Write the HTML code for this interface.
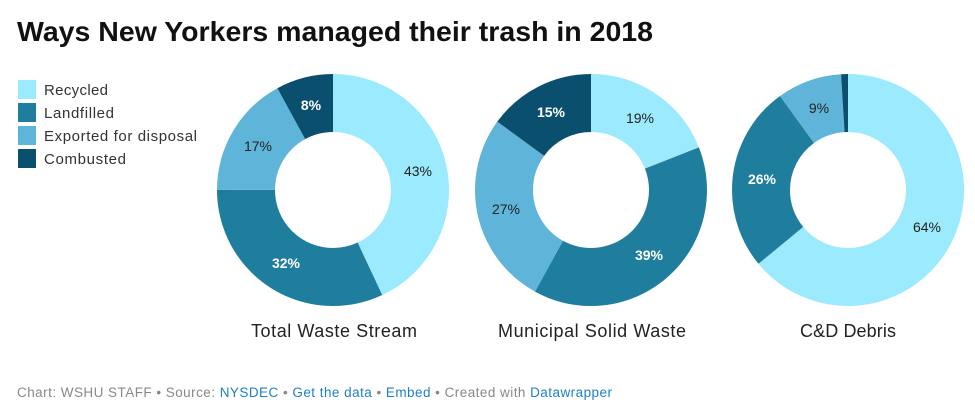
<!DOCTYPE html>
<html><head><meta charset="utf-8"><style>
body{margin:0;background:#fff;font-family:"Liberation Sans",sans-serif;}
</style></head><body>
<svg width="975" height="412" xmlns="http://www.w3.org/2000/svg" style="display:block">
<text x="17" y="41" font-size="28" font-weight="bold" fill="#111" textLength="636" lengthAdjust="spacingAndGlyphs" font-family="Liberation Sans, sans-serif">Ways New Yorkers managed their trash in 2018</text>
<g font-size="15" fill="#333" font-family="Liberation Sans, sans-serif">
<rect x="18" y="80" width="18" height="19" fill="#9beafd"/><text x="44" y="95" textLength="64">Recycled</text>
<rect x="18" y="103" width="18" height="19" fill="#1f7e9e"/><text x="44" y="118" textLength="70">Landfilled</text>
<rect x="18" y="126" width="18" height="19" fill="#5fb5d9"/><text x="44" y="141" textLength="153">Exported for disposal</text>
<rect x="18" y="149" width="18" height="19" fill="#0b4f6e"/><text x="44" y="164" textLength="82">Combusted</text>
</g>
<g fill="none" stroke-width="58">
 <g transform="translate(333,190) rotate(-90)">
  <circle r="87" stroke="#9beafd" stroke-dasharray="235.06 546.64" stroke-dashoffset="0"/>
  <circle r="87" stroke="#1f7e9e" stroke-dasharray="174.92 546.64" stroke-dashoffset="-235.06"/>
  <circle r="87" stroke="#5fb5d9" stroke-dasharray="92.93 546.64" stroke-dashoffset="-409.98"/>
  <circle r="87" stroke="#0b4f6e" stroke-dasharray="43.73 546.64" stroke-dashoffset="-502.91"/>
 </g>
 <g transform="translate(591,190) rotate(-90)">
  <circle r="87" stroke="#9beafd" stroke-dasharray="103.86 546.64" stroke-dashoffset="0"/>
  <circle r="87" stroke="#1f7e9e" stroke-dasharray="213.19 546.64" stroke-dashoffset="-103.86"/>
  <circle r="87" stroke="#5fb5d9" stroke-dasharray="147.59 546.64" stroke-dashoffset="-317.05"/>
  <circle r="87" stroke="#0b4f6e" stroke-dasharray="82.0 546.64" stroke-dashoffset="-464.64"/>
 </g>
 <g transform="translate(848,190) rotate(-90)">
  <circle r="87" stroke="#9beafd" stroke-dasharray="349.85 546.64" stroke-dashoffset="0"/>
  <circle r="87" stroke="#1f7e9e" stroke-dasharray="142.13 546.64" stroke-dashoffset="-349.85"/>
  <circle r="87" stroke="#5fb5d9" stroke-dasharray="49.2 546.64" stroke-dashoffset="-491.98"/>
  <circle r="87" stroke="#0b4f6e" stroke-dasharray="5.47 546.64" stroke-dashoffset="-541.18"/>
 </g>
</g>
<g font-size="14" text-anchor="middle" font-family="Liberation Sans, sans-serif">
 <text x="418" y="176" fill="#222">43%</text>
 <text x="286" y="268" fill="#fff" font-weight="bold">32%</text>
 <text x="258" y="151" fill="#222">17%</text>
 <text x="311" y="110" fill="#fff" font-weight="bold">8%</text>
 <text x="640" y="123" fill="#222">19%</text>
 <text x="649" y="260" fill="#fff" font-weight="bold">39%</text>
 <text x="506" y="214" fill="#222">27%</text>
 <text x="551" y="117" fill="#fff" font-weight="bold">15%</text>
 <text x="927" y="232" fill="#222">64%</text>
 <text x="762" y="184" fill="#fff" font-weight="bold">26%</text>
 <text x="819" y="113" fill="#222">9%</text>
</g>
<g font-size="18" fill="#222" text-anchor="middle" font-family="Liberation Sans, sans-serif">
 <text x="334" y="337" textLength="166">Total Waste Stream</text>
 <text x="592" y="337" textLength="188">Municipal Solid Waste</text>
 <text x="848" y="337" textLength="96">C&amp;D Debris</text>
</g>
<text x="17" y="397" font-size="13.5" fill="#888" textLength="595" font-family="Liberation Sans, sans-serif">Chart: WSHU STAFF • Source: <tspan fill="#1d81c4">NYSDEC</tspan> • <tspan fill="#1d81c4">Get the data</tspan> • <tspan fill="#1d81c4">Embed</tspan> • Created with <tspan fill="#1d81c4">Datawrapper</tspan></text>
</svg>
</body></html>
